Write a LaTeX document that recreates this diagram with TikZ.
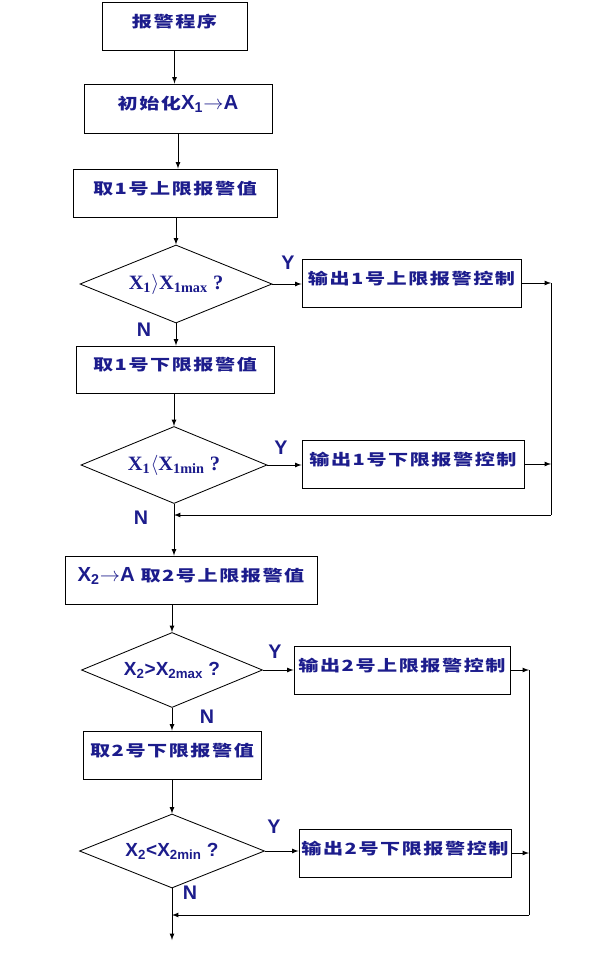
\documentclass[tikz,border=0pt]{standalone}
\usepackage{fontspec}
\usepackage{tikz}
\usetikzlibrary{shapes.geometric}
\setmainfont{Liberation Sans}
\newfontfamily\cjk[FakeStretch=1.3,LetterSpace=10]{Noto Sans CJK SC}
\newfontfamily\serifx{Liberation Serif}
\definecolor{labelblue}{RGB}{28,28,140}
\newcommand{\zh}[1]{{\cjk\bfseries\fontsize{11}{13}\selectfont #1}}

\begin{document}
\begin{tikzpicture}[x=0.025cm,y=-0.025cm,>=latex,line width=0.6pt,
	block/.style={shape=rectangle,draw=black,text=labelblue,inner sep=0pt,
		text height=10pt,text depth=8pt,font=\bfseries\fontsize{14.5}{16}\selectfont},
	decision/.style={shape=diamond,aspect=2.5,draw=black,text=labelblue,inner sep=0pt},
	tag/.style={text=labelblue,inner sep=0pt,font=\bfseries\fontsize{14}{16}\selectfont}]
	\useasboundingbox (0,0) rectangle (605,973);

	\node [block,minimum width=3.625cm,minimum height=1.2cm] (P) at (174.5,26) {\zh{报警程序}};
	\node [block,minimum width=4.7cm,minimum height=1.225cm] (I) at (178,108.5) {\zh{初始化}X\textsubscript{1}$\rightarrow$A};
	\node [block,minimum width=5.1cm,minimum height=1.2cm] (U1) at (175,193) {\zh{取1号上限报警值}};
	\node [decision,minimum width=4.8cm,minimum height=1.95cm] (T1) at (176,284)
		{\serifx\bfseries\fontsize{14.5}{16}\selectfont X\textsubscript{1}$\rangle$X\textsubscript{1max} ?};
	\node [block,minimum width=5.475cm,minimum height=1.2cm] (OU1) at (411.5,283) {\zh{输出1号上限报警控制}};
	\node [block,minimum width=4.95cm,minimum height=1.175cm] (L1) at (175,369.5) {\zh{取1号下限报警值}};
	\node [decision,minimum width=4.65cm,minimum height=1.925cm] (T2) at (174,465)
		{\serifx\bfseries\fontsize{14.5}{16}\selectfont X\textsubscript{1}$\langle$X\textsubscript{1min} ?};
	\node [block,minimum width=5.55cm,minimum height=1.2cm] (OL1) at (413,464) {\zh{输出1号下限报警控制}};
	\node [block,minimum width=6.3cm,minimum height=1.2cm] (U2) at (191,580) {X\textsubscript{2}$\rightarrow$A \zh{取2号上限报警值}};
	\node [decision,minimum width=4.525cm,minimum height=1.875cm] (T3) at (172,670)
		{\bfseries\fontsize{13.5}{15}\selectfont X\textsubscript{2}>X\textsubscript{2max} ?};
	\node [block,minimum width=5.4cm,minimum height=1.2cm] (OU2) at (402,670) {\zh{输出2号上限报警控制}};
	\node [block,minimum width=4.45cm,minimum height=1.2cm] (L2) at (172,755) {\zh{取2号下限报警值}};
	\node [decision,minimum width=4.625cm,minimum height=1.85cm] (T4) at (172,851)
		{\bfseries\fontsize{13.5}{15}\selectfont X\textsubscript{2}<X\textsubscript{2min} ?};
	\node [block,minimum width=5.3cm,minimum height=1.2cm] (OL2) at (405,853) {\zh{输出2号下限报警控制}};

	\node [tag] (Y1) at (288,263) {Y};
	\node [tag] (N1) at (144,330) {N};
	\node [tag] (Y2) at (281,448) {Y};
	\node [tag] (N2) at (141,518) {N};
	\node [tag] (Y3) at (275,652) {Y};
	\node [tag] (N3) at (207,717) {N};
	\node [tag] (Y4) at (274,827) {Y};
	\node [tag] (N4) at (190,893) {N};

	\coordinate (R1) at (551,283);
	\coordinate (B1) at (551,515);
	\coordinate (R2) at (529,670);
	\coordinate (B2) at (529,915);
	\coordinate (E) at (172,940);

	\path [->] (P.south) edge node {} (P.south |- I.north);
	\path [->] (I.south) edge node {} (I.south |- U1.north);
	\path [->] (T1.north |- U1.south) edge node {} (T1.north);
	\path [->] (T1.east) edge node {} (T1.east -| OU1.west);
	\path [->] (T1.south) edge node {} (T1.south |- L1.north);
	\path [->] (T2.north |- L1.south) edge node {} (T2.north);
	\path [->] (T2.east) edge node {} (T2.east -| OL1.west);
	\path [->] (OU1.east) edge node {} (OU1.east -| R1);
	\path [->] (OL1.east) edge node {} (OL1.east -| R1);
	\path [-] (R1) edge node {} (B1);
	\path [->] (B1) edge node {} (B1 -| T2.south);
	\path [->] (T2.south) edge node {} (T2.south |- U2.north);
	\path [->] (T3.north |- U2.south) edge node {} (T3.north);
	\path [->] (T3.east) edge node {} (T3.east -| OU2.west);
	\path [->] (T3.south) edge node {} (T3.south |- L2.north);
	\path [->] (L2.south) edge node {} (L2.south |- T4.north);
	\path [->] (T4.east) edge node {} (T4.east -| OL2.west);
	\path [->] (OU2.east) edge node {} (OU2.east -| R2);
	\path [->] (OL2.east) edge node {} (OL2.east -| R2);
	\path [-] (R2) edge node {} (B2);
	\path [->] (B2) edge node {} (B2 -| T4.south);
	\path [->] (T4.south) edge node {} (E);
\end{tikzpicture}
\end{document}
